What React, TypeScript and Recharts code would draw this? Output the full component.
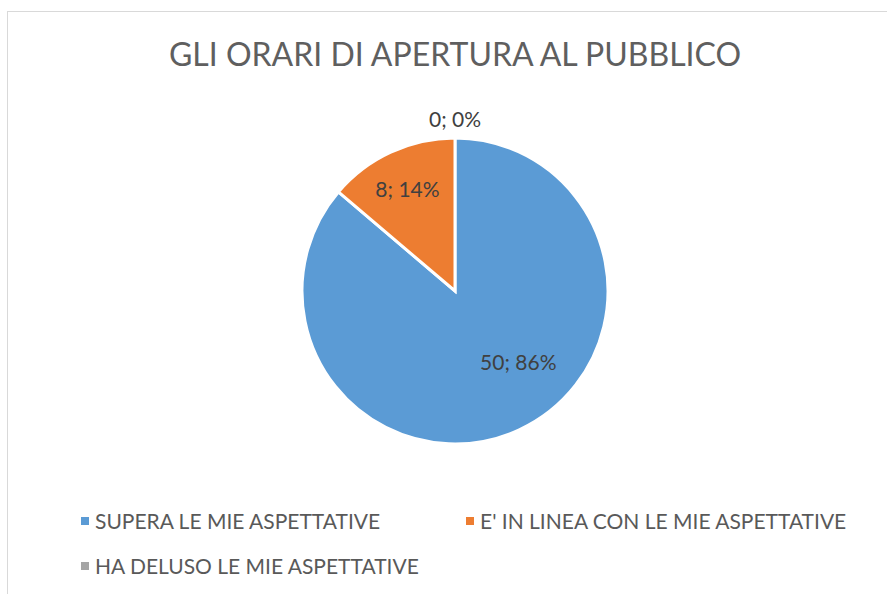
import { useEffect } from 'react';
import { PieChart, Pie, Cell } from 'recharts';

const categories = [
  'SUPERA LE MIE ASPETTATIVE',
  "E' IN LINEA CON LE MIE ASPETTATIVE",
  'HA DELUSO LE MIE ASPETTATIVE',
];
const counts = [50, 8, 0];
const colors = ['#5B9BD5', '#ED7D31', '#A5A5A5'];
// label placement, as a fraction of the radius (Excel "best fit" look)
const labelRadius = [0.62, 0.74, 1.13];
const labelAngleShift = [17, 0, 0];

const FONT = 'Lato, "Open Sans", sans-serif';

const data = categories.map((name, i) => ({ name, value: counts[i] }));
const total = counts.reduce((a, b) => a + b, 0);

function SliceLabel({ cx, cy, midAngle, outerRadius, index, value }: any) {
  const rad = ((midAngle + labelAngleShift[index]) * Math.PI) / 180;
  const r = outerRadius * labelRadius[index];
  const x = cx + r * Math.cos(rad);
  const y = cy - r * Math.sin(rad);
  const pct = Math.round((value / total) * 100);
  return (
    <text
      x={x}
      y={y}
      textAnchor="middle"
      dominantBaseline="central"
      fill="#404040"
      fontSize={21}
      fontFamily={FONT}
    >
      {`${value}; ${pct}%`}
    </text>
  );
}

const legendPos = [
  { left: 81, top: 508 },
  { left: 466, top: 508 },
  { left: 81, top: 553 },
];

export default function App() {
  useEffect(() => {
    document.body.style.margin = '0';
  }, []);

  return (
    <div style={{ position: 'relative', width: 887, height: 594, overflow: 'hidden', background: '#fff' }}>
      <div
        style={{
          position: 'absolute',
          left: 7,
          top: 11,
          width: 920,
          height: 620,
          border: '1px solid #d9d9d9',
        }}
      />
      <div
        style={{
          position: 'absolute',
          top: 34,
          left: 0,
          width: 910,
          textAlign: 'center',
          fontFamily: FONT,
          fontSize: 32,
          color: '#5f5f5f',
          fontWeight: 400,
        }}
      >
        GLI ORARI DI APERTURA AL PUBBLICO
      </div>
      <PieChart
        width={887}
        height={594}
        margin={{ top: 0, right: 0, bottom: 0, left: 0 }}
        style={{ position: 'absolute', left: 0, top: 0 }}
      >
        <Pie
          data={data}
          dataKey="value"
          nameKey="name"
          cx={455}
          cy={291}
          outerRadius={153}
          startAngle={90}
          endAngle={-270}
          stroke="#fff"
          strokeWidth={3}
          labelLine={false}
          label={<SliceLabel />}
          isAnimationActive={false}
        >
          {data.map((d, i) => (
            <Cell key={d.name} fill={colors[i]} />
          ))}
        </Pie>
      </PieChart>
      {categories.map((name, i) => (
        <div
          key={name}
          style={{
            position: 'absolute',
            left: legendPos[i].left,
            top: legendPos[i].top,
            display: 'flex',
            alignItems: 'center',
            fontFamily: FONT,
            fontSize: 21,
            color: '#595959',
            whiteSpace: 'nowrap',
          }}
        >
          <span style={{ width: 8, height: 8, background: colors[i], marginRight: 6, display: 'inline-block' }} />
          {name}
        </div>
      ))}
    </div>
  );
}
